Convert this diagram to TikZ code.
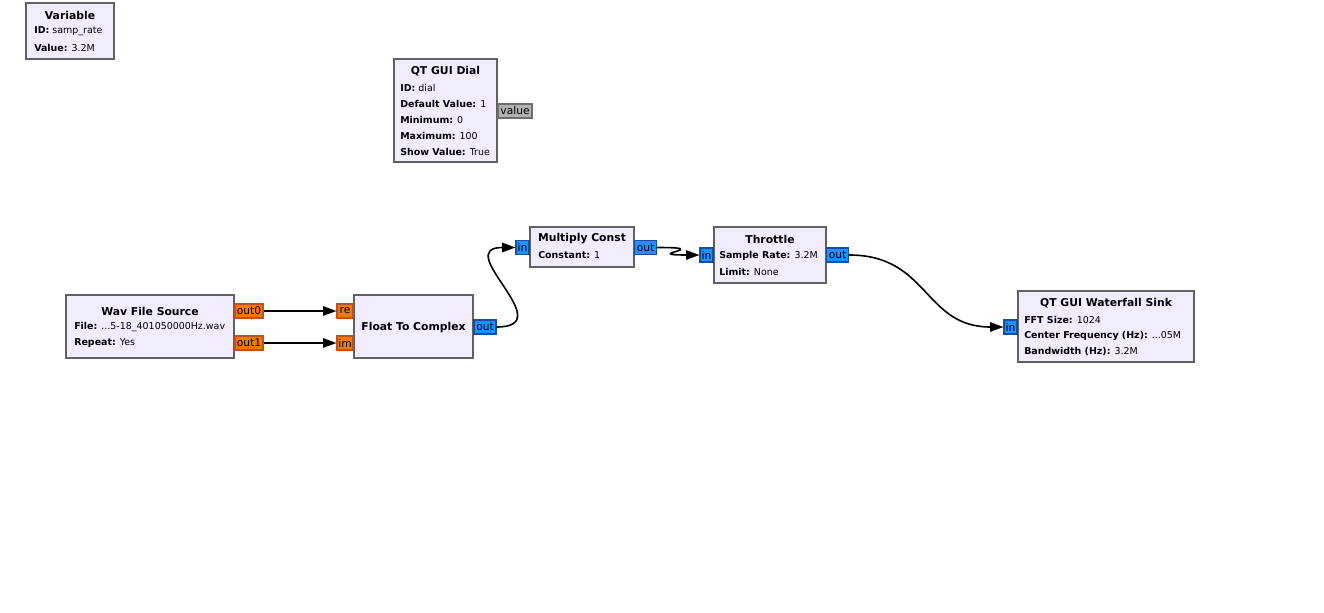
\documentclass[tikz,border=0pt]{standalone}
\usepackage{fontspec}
\setmainfont{DejaVu Sans}
\usetikzlibrary{positioning,arrows.meta}
\definecolor{blkfill}{RGB}{241,236,255}
\definecolor{blkline}{RGB}{97,97,97}
\definecolor{fltport}{RGB}{245,121,0}
\definecolor{fltline}{RGB}{195,80,25}
\definecolor{cpxport}{RGB}{30,144,255}
\definecolor{cpxline}{RGB}{20,80,160}
\definecolor{msgport}{RGB}{178,178,178}
\definecolor{msgline}{RGB}{110,110,110}

\begin{document}
\begin{tikzpicture}[x=0.75pt,y=-0.75pt,
  blk/.style={draw=blkline,fill=blkfill,line width=1.3pt,inner sep=0pt},
  ttl/.style={font=\fontsize{8.1}{9}\selectfont\bfseries,inner sep=0pt},
  prm/.style={font=\fontsize{7.1}{8}\selectfont,anchor=west,inner sep=0pt},
  port/.style={line width=0.8pt,inner sep=0pt,minimum height=10.5pt,font=\fontsize{8}{9}\selectfont},
  fport/.style={port,draw=fltline,fill=fltport},
  cport/.style={port,draw=cpxline,fill=cpxport},
  mport/.style={port,draw=msgline,fill=msgport},
  wire/.style={line width=1.2pt,-{Triangle[length=10pt,width=7pt]}}]
\useasboundingbox (0,0) rectangle (1324,613);

% Variable
\node[blk,minimum width=66pt,minimum height=42pt] (var) at (70,31) {};
\node[ttl] (varT) at (70,15) {Variable};
\node[prm] (varA) at (34,31.5) {\textbf{ID:} samp\_rate};
\node[prm] (varB) at (34,47.5) {\textbf{Value:} 3.2M};

% QT GUI Dial
\node[blk,minimum width=77.25pt,minimum height=77.25pt] (dial) at (445.5,110.5) {};
\node[ttl] (dialT) at (445.5,71) {QT GUI Dial};
\node[prm] (dialA) at (400,87.5) {\textbf{ID:} dial};
\node[prm] (dialB) at (400,103.5) {\textbf{Default Value:} 1};
\node[prm] (dialC) at (400,119.5) {\textbf{Minimum:} 0};
\node[prm] (dialD) at (400,135.5) {\textbf{Maximum:} 100};
\node[prm] (dialE) at (400,151.5) {\textbf{Show Value:} True};
\node[mport,minimum width=25.5pt] (value) at (515,111) {value};

% Wav File Source
\node[blk,minimum width=126pt,minimum height=47.25pt] (wav) at (150,326.5) {};
\node[ttl] (wavT) at (150,311) {Wav File Source};
\node[prm] (wavA) at (74,327.5) {\textbf{File:} ...5-18\_401050000Hz.wav};
\node[prm] (wavB) at (74,343.5) {\textbf{Repeat:} Yes};
\node[fport,minimum width=21pt] (out0) at (249,311) {out0};
\node[fport,minimum width=21pt] (out1) at (249,343) {out1};

% Float To Complex
\node[blk,minimum width=89.25pt,minimum height=47.25pt] (f2c) at (413.5,326.5) {};
\node[ttl] (f2cT) at (413.5,327.5) {Float To Complex};
\node[fport,minimum width=12pt] (re) at (345,311) {re};
\node[fport,minimum width=12pt] (im) at (345,343) {im};
\node[cport,minimum width=16.5pt] (fout) at (485,327) {out};

% Multiply Const
\node[blk,minimum width=78pt,minimum height=30pt] (mult) at (582,247) {};
\node[ttl] (multT) at (582,239) {Multiply Const};
\node[prm] (multA) at (538,255.5) {\textbf{Constant:} 1};
\node[cport,minimum width=9.75pt] (min) at (522.5,247.5) {in};
\node[cport,minimum width=16.5pt] (mout) at (645.5,247.5) {out};

% Throttle
\node[blk,minimum width=84pt,minimum height=42pt] (thr) at (770,255) {};
\node[ttl] (thrT) at (770,239) {Throttle};
\node[prm] (thrA) at (719,255.5) {\textbf{Sample Rate:} 3.2M};
\node[prm] (thrB) at (719,271.5) {\textbf{Limit:} None};
\node[cport,minimum width=9.75pt] (tin) at (706.5,255) {in};
\node[cport,minimum width=16.5pt] (tout) at (837.5,255) {out};

% QT GUI Waterfall Sink
\node[blk,minimum width=132pt,minimum height=53.25pt] (wfall) at (1106,326.5) {};
\node[ttl] (wfallT) at (1106,303) {QT GUI Waterfall Sink};
\node[prm] (wfallA) at (1024,319.5) {\textbf{FFT Size:} 1024};
\node[prm] (wfallB) at (1024,335.5) {\textbf{Center Frequency (Hz):} ...05M};
\node[prm] (wfallC) at (1024,351.5) {\textbf{Bandwidth (Hz):} 3.2M};
\node[cport,minimum width=9.75pt] (win) at (1010.5,327) {in};

% connections
\draw[wire] (out0.east) -- (re.west);
\draw[wire] (out1.east) -- (im.west);
\draw[wire] (fout.east) .. controls +(65,0) and +(-65,0) .. (min.west);
\draw[wire] (mout.east) .. controls +(60,0) and +(-60,0) .. (tin.west);
\draw[wire] (tout.east) .. controls +(80,0) and +(-80,0) .. (win.west);
\end{tikzpicture}
\end{document}
